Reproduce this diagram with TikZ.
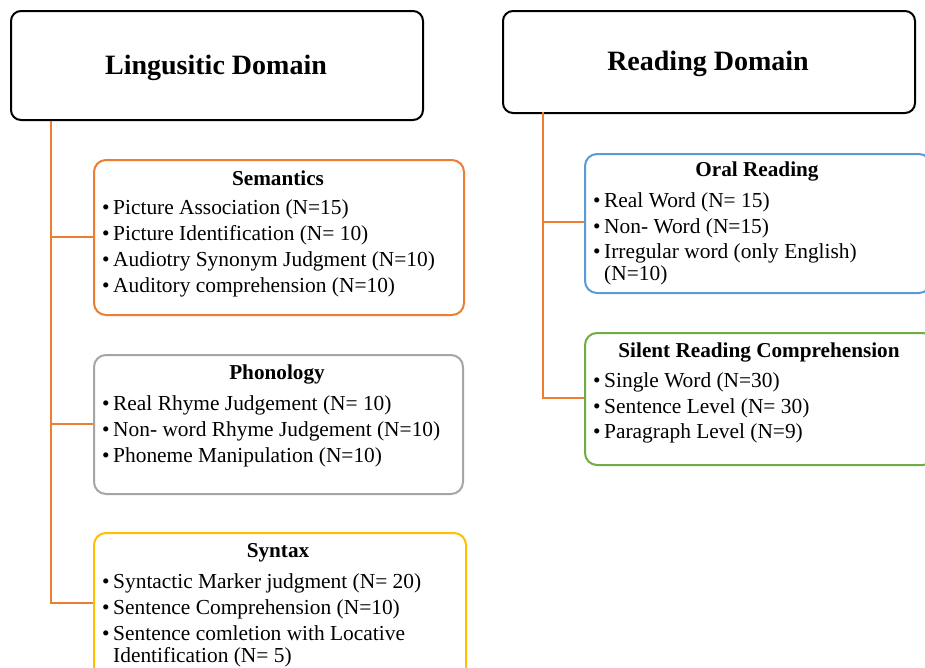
\documentclass[tikz,border=0pt]{standalone}
\usepackage{fontspec}
\setmainfont{Liberation Serif}
\definecolor{orng}{RGB}{237,125,49}
\definecolor{gry}{RGB}{165,165,165}
\definecolor{yel}{RGB}{255,192,0}
\definecolor{blu}{RGB}{91,155,213}
\definecolor{grn}{RGB}{112,173,71}
\tikzset{
  dombox/.style={draw=black, line width=2pt, rounded corners=10pt, anchor=north west, inner sep=0pt, fill=white},
  subbox/.style={draw=#1, line width=2pt, rounded corners=12pt, anchor=north west, inner sep=0pt, fill=white},
  domtitle/.style={anchor=base, inner sep=0pt, font=\fontsize{28}{32}\selectfont\bfseries},
  subtitle/.style={anchor=base, inner sep=0pt, font=\fontsize{21.2}{26}\selectfont\bfseries},
  itemtxt/.style={anchor=base west, inner sep=0pt, font=\fontsize{21.4}{26}\selectfont},
  bul/.style={anchor=base west, inner sep=0pt, font=\fontsize{21.4}{26}\selectfont},
  trunk/.style={draw=orng, line width=2pt}
}
\begin{document}
\begin{tikzpicture}[x=1pt,y=-1pt]
\useasboundingbox (0,0) rectangle (925,667);
\clip (0,0) rectangle (925,667);
\fill[white] (0,0) rectangle (925,667);

% ---------- Linguistic domain ----------
\node[dombox, minimum width=412pt, minimum height=109pt] (ling) at (10,10) {};
\node[domtitle] (lingt) at (216,74) {Lingusitic Domain};

\coordinate (lt0) at (51,119);
\coordinate (lt1) at (51,237);
\coordinate (lt2) at (51,424);
\coordinate (lt3) at (51,603);

% Semantics
\node[subbox=orng, minimum width=370pt, minimum height=155pt] (sem) at (93,159) {};
\node[subtitle] (semt) at (278,185) {Semantics};
\foreach \y/\t [count=\i] in {214/{Picture Association (N=15)},240/{Picture Identification (N= 10)},266/{Audiotry Synonym Judgment (N=10)},292/{Auditory comprehension (N=10)}}{
  \node[bul] (semb\i) at (102,\y) {•};
  \node[itemtxt] (semi\i) at (113,\y) {\t};
}

% Phonology
\node[subbox=gry, minimum width=369pt, minimum height=139pt] (pho) at (93,354) {};
\node[subtitle] (phot) at (277,379) {Phonology};
\foreach \y/\t [count=\i] in {410/{Real Rhyme Judgement (N= 10)},436/{Non- word Rhyme Judgement (N=10)},462/{Phoneme Manipulation (N=10)}}{
  \node[bul] (phob\i) at (102,\y) {•};
  \node[itemtxt] (phoi\i) at (113,\y) {\t};
}

% Syntax
\node[subbox=yel, minimum width=372pt, minimum height=150pt] (syn) at (93,532) {};
\node[subtitle] (synt) at (278,557) {Syntax};
\foreach \y/\t [count=\i] in {588/{Syntactic Marker judgment (N= 20)},614/{Sentence Comprehension (N=10)},640/{Sentence comletion with Locative}}{
  \node[bul] (synb\i) at (102,\y) {•};
  \node[itemtxt] (syni\i) at (113,\y) {\t};
}
\node[itemtxt] (syni4) at (113,662) {Identification (N= 5)};

\draw[trunk] (ling.south west -| lt0) -- (lt3) -- (syn.west |- lt3);
\draw[trunk] (lt1) -- (sem.west |- lt1);
\draw[trunk] (lt2) -- (pho.west |- lt2);

% ---------- Reading domain ----------
\node[dombox, minimum width=412pt, minimum height=102pt] (read) at (502,10) {};
\node[domtitle] (readt) at (708,70) {Reading Domain};

\coordinate (rt0) at (543,112);
\coordinate (rt1) at (543,222);
\coordinate (rt2) at (543,398);

% Oral reading
\node[subbox=blu, minimum width=346pt, minimum height=139pt] (oral) at (584,153) {};
\node[subtitle] (oralt) at (757,176) {Oral Reading};
\foreach \y/\t [count=\i] in {207/{Real Word (N= 15)},233/{Non- Word (N=15)},258/{Irregular word (only English)}}{
  \node[bul] (oralb\i) at (593,\y) {•};
  \node[itemtxt] (orali\i) at (604,\y) {\t};
}
\node[itemtxt] (orali4) at (604,280) {(N=10)};

% Silent reading
\node[subbox=grn, minimum width=350pt, minimum height=132pt] (sil) at (584,332) {};
\node[subtitle] (silt) at (759,357) {Silent Reading Comprehension};
\foreach \y/\t [count=\i] in {387/{Single Word (N=30)},413/{Sentence Level (N= 30)},438/{Paragraph Level (N=9)}}{
  \node[bul] (silb\i) at (593,\y) {•};
  \node[itemtxt] (sili\i) at (604,\y) {\t};
}

\draw[trunk] (rt0) -- (rt2) -- (sil.west |- rt2);
\draw[trunk] (rt1) -- (oral.west |- rt1);
\end{tikzpicture}
\end{document}
